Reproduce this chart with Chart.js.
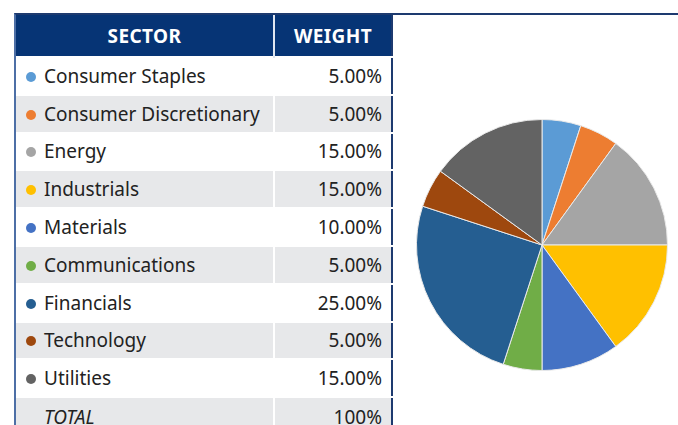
<!DOCTYPE html>
<html>
<head>
<meta charset="utf-8">
<script src="https://cdn.jsdelivr.net/npm/chart.js@4"></script>
<style>
  html, body { margin: 0; padding: 0; background: #fff; width: 678px; height: 425px; overflow: hidden; }
  body { font-family: "Noto Sans", sans-serif; color: #222; }
  #frame {
    position: absolute; left: 14px; top: 13px; width: 664px; height: 420px;
    border-top: 2px solid #1d3a6f; border-left: 2px solid #4d6fa6;
  }
  #weights {
    position: absolute; left: 0; top: 0; width: 376px; table-layout: fixed;
    border-collapse: collapse; border-right: 2px solid #1d3a6f;
  }
  #weights col.c1 { width: 258px; }
  #weights col.c2 { width: 118px; }
  #weights th {
    background: #063475; color: #fff; font-weight: bold; font-size: 19px;
    height: 42px; padding: 0; text-align: center; letter-spacing: 0.4px;
    box-sizing: border-box;
  }
  #weights th + th { border-left: 2px solid #dfe6f0; }
  #weights td {
    height: 37.8px; padding: 0; font-size: 19px; border-top: 2px solid #fff;
    box-sizing: border-box; white-space: nowrap;
  }
  #weights td.name { padding-left: 8px; }
  #weights td.val { text-align: right; padding-right: 9px; border-left: 2px solid #fff; }
  #weights tr:nth-child(even) td { background: #e7e8ea; }
  #weights .dot {
    display: inline-block; width: 10px; height: 10px; border-radius: 50%;
    margin: 0 8px 0 2px; vertical-align: 1px;
  }
  #weights tr.total td.name { font-style: italic; padding-left: 28px; }
  #pieBox { position: absolute; left: 400px; top: 104px; width: 252px; height: 252px; }
</style>
</head>
<body>
<div id="frame">
  <table id="weights">
    <colgroup><col class="c1"><col class="c2"></colgroup>
    <thead><tr><th>SECTOR</th><th>WEIGHT</th></tr></thead>
    <tbody></tbody>
  </table>
  <div id="pieBox"><canvas id="sectorPie"></canvas></div>
</div>
<script>
var sectors = ['Consumer Staples', 'Consumer Discretionary', 'Energy', 'Industrials',
  'Materials', 'Communications', 'Financials', 'Technology', 'Utilities'];
var weights = [5, 5, 15, 15, 10, 5, 25, 5, 15];
var palette = ['#5b9bd5', '#ed7d31', '#a5a5a5', '#ffc000', '#4472c4',
  '#70ad47', '#255e91', '#9e480e', '#636363'];

// table rows
var tbody = document.querySelector('#weights tbody');
sectors.forEach(function (name, i) {
  var tr = document.createElement('tr');
  tr.innerHTML = '<td class="name"><span class="dot" style="background:' + palette[i] + '"></span>' +
    name + '</td><td class="val">' + weights[i].toFixed(2) + '%</td>';
  tbody.appendChild(tr);
});
var total = weights.reduce(function (a, b) { return a + b; }, 0);
var totalRow = document.createElement('tr');
totalRow.className = 'total';
totalRow.innerHTML = '<td class="name">TOTAL</td><td class="val">' + total + '%</td>';
tbody.appendChild(totalRow);

var ctx = document.getElementById('sectorPie').getContext('2d');
new Chart(ctx, {
  type: 'pie',
  data: {
    labels: sectors,
    datasets: [{
      data: weights,
      backgroundColor: palette,
      borderColor: '#e9e9e9',
      borderWidth: 1
    }]
  },
  options: {
    responsive: true,
    maintainAspectRatio: false,
    animation: false,
    layout: { padding: 0 },
    plugins: {
      legend: { display: false },
      tooltip: { enabled: false }
    }
  }
});
</script>
</body>
</html>
